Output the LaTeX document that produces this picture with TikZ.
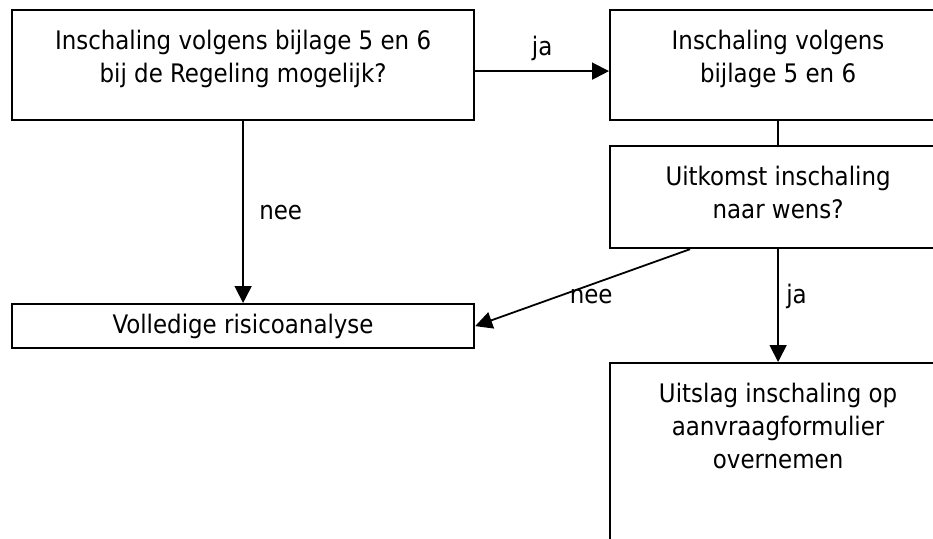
\documentclass[tikz,border=0pt]{standalone}
\usepackage{fontspec}
\setmainfont{DejaVu Sans Condensed}
\usetikzlibrary{arrows.meta, positioning}

% text of a box, set from its top edge
\newcommand{\boxtext}[3]{\parbox[c][#2][t]{#1}{\centering\rule{0pt}{39pt}#3}}

\tikzset{
    % boxes
    flowbox/.style={rectangle, draw=black, line width=2.2pt, inner sep=0pt,
                anchor=north west, align=center},
    % connectors
    flowarrow/.style={-{Triangle[length=17pt, width=17pt]}, line width=1.8pt},
    flowline/.style={line width=1.8pt},
}

\begin{document}
\begin{tikzpicture}[x=1pt, y=-1pt, font=\fontsize{25.5}{33}\selectfont]
\clip (0,0) rectangle (933,538);

\node[flowbox] (mogelijk)   at (11,9)    {\boxtext{462pt}{110pt}{Inschaling volgens bijlage 5 en 6\\bij de Regeling mogelijk?}};
\node[flowbox] (inschaling) at (609,9)   {\boxtext{336pt}{110pt}{Inschaling volgens\\bijlage 5 en 6}};
\node[flowbox] (wens)       at (609,145) {\boxtext{336pt}{102pt}{Uitkomst inschaling\\naar wens?}};
\node[flowbox, minimum width=462pt, minimum height=44pt] (risico) at (11,303) {Volledige risicoanalyse};
\node[flowbox] (uitslag)    at (609,362) {\boxtext{336pt}{220pt}{Uitslag inschaling op\\aanvraagformulier\\overnemen}};

\draw[flowarrow] ([yshift=-6pt]mogelijk.east) -- node[above=6pt] {ja} ([yshift=-6pt]inschaling.west);
\draw[flowline] (inschaling.south) -- (wens.north);
\draw[flowarrow] (mogelijk.south) -- node[right=12pt] {nee} (risico.north);
\draw[flowarrow] ([xshift=81pt]wens.south west) -- node[pos=0.46, below] {nee} (risico.east);
\draw[flowarrow] (wens.south) -- node[pos=0.42, right=4pt] {ja} (uitslag.north);
\end{tikzpicture}
\end{document}
